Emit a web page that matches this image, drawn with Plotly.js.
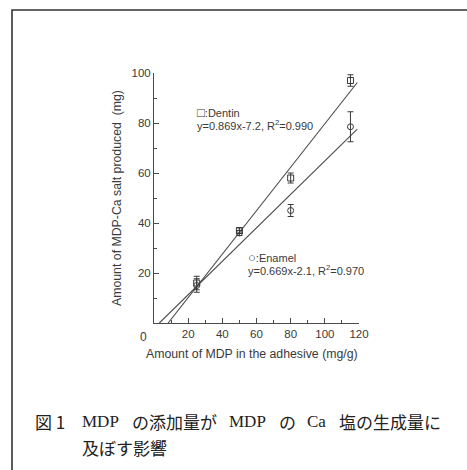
<!DOCTYPE html>
<html>
<head>
<meta charset="utf-8">
<script src="https://cdn.plot.ly/plotly-3.0.1.min.js"></script>
<style>html,body{margin:0;padding:0;background:#fff;}#chart{width:467px;height:470px;}</style>
</head>
<body>
<div id="chart"></div>
<script>
// Data
const mdpAmount = [25, 50, 80, 115];
const dentinSalt = [16, 37, 58, 97];
const dentinErr = [2.7, 1, 2, 2.3];
const enamelSalt = [15, 36, 45, 78.5];
const enamelErr = [2.7, 1, 2.4, 6];
const dentinFit = {slope: 0.869, intercept: -7.2, xEnd: 119};
const enamelFit = {slope: 0.669, intercept: -2.1, xEnd: 119};
const xTicks = [20, 40, 60, 80, 100, 120];
const yTicks = [20, 40, 60, 80, 100];
const dentinLabel = '<span style="font-size:13px">\u25A1</span>:Dentin';
const dentinEq = 'y=0.869x-7.2, R<sup>2</sup>=0.990';
const enamelLabel = '<span style="font-size:13px">\u25CB</span>:Enamel';
const enamelEq = 'y=0.669x-2.1, R<sup>2</sup>=0.970';
const xTitle = 'Amount of MDP in the adhesive (mg/g)';
const yTitle = 'Amount of MDP-Ca salt produced&nbsp;&nbsp;(mg)';
// caption: "図 1　MDP の添加量が MDP の Ca 塩の生成量に" / "及ぼす影響", split into justified pieces
const captionLine1 = ['図 1', 'MDP', 'の添加量が', 'MDP', 'の', 'Ca', '塩の生成量に'];
const captionLine2 = ['及ぼす影響'];

function fitLine(f) {
  const x0 = -f.intercept / f.slope;
  return {x: [x0, f.xEnd], y: [0, f.slope * f.xEnd + f.intercept]};
}
const dl = fitLine(dentinFit), el = fitLine(enamelFit);
const ink = '#3a3a3a';
const lineCol = '#4a4a4a';
const font = 'Liberation Sans, Arial, sans-serif';

const traces = [
  {x: dl.x, y: dl.y, mode: 'lines', line: {color: lineCol, width: 1.1}, hoverinfo: 'skip'},
  {x: el.x, y: el.y, mode: 'lines', line: {color: lineCol, width: 1.1}, hoverinfo: 'skip'},
  {x: mdpAmount, y: dentinSalt, mode: 'markers',
   marker: {symbol: 'square-open', size: 6, color: ink, line: {width: 1}},
   error_y: {type: 'data', array: dentinErr, visible: true, color: ink, thickness: 1, width: 3}},
  {x: mdpAmount, y: enamelSalt, mode: 'markers',
   marker: {symbol: 'circle-open', size: 6, color: ink, line: {width: 1}},
   error_y: {type: 'data', array: enamelErr, visible: true, color: ink, thickness: 1, width: 3}}
];

// layout helpers (pixel -> paper)
const L = 154, W = 205, B = 323, H = 250;
const px = X => (X - L) / W;
const py = Y => (B - Y) / H;

const capFontCJK = {family: 'Noto Sans CJK JP, sans-serif', size: 17, color: '#222'};
const capFontLat = {family: 'Liberation Serif, serif', size: 17, color: '#222'};
const cap1X = [33, 80, 129.5, 226.5, 277, 305, 337];
const cap1Font = [capFontCJK, capFontLat, capFontCJK, capFontLat, capFontCJK, capFontLat, capFontCJK];

const annotations = [
  {xref: 'x', yref: 'y', x: 24, y: 84.4, text: dentinLabel, showarrow: false, xanchor: 'left', yanchor: 'middle', font: {size: 11}},
  {xref: 'x', yref: 'y', x: 24, y: 79.2, text: dentinEq, showarrow: false, xanchor: 'left', yanchor: 'middle', font: {size: 11}},
  {xref: 'x', yref: 'y', x: 54, y: 26.4, text: enamelLabel, showarrow: false, xanchor: 'left', yanchor: 'middle', font: {size: 11}},
  {xref: 'x', yref: 'y', x: 54, y: 21.2, text: enamelEq, showarrow: false, xanchor: 'left', yanchor: 'middle', font: {size: 11}},
  {xref: 'paper', yref: 'paper', x: px(143), y: py(337), text: '0', showarrow: false, xanchor: 'center', yanchor: 'middle', font: {size: 12}},
  {xref: 'paper', yref: 'paper', x: px(252), y: py(354), text: xTitle, showarrow: false, xanchor: 'center', yanchor: 'middle', font: {size: 12.3}},
  {xref: 'paper', yref: 'paper', x: px(117), y: py(198), text: yTitle, textangle: -90, showarrow: false, xanchor: 'center', yanchor: 'middle', font: {size: 12.3}}
];
captionLine1.forEach((t, i) => annotations.push({xref: 'paper', yref: 'paper', x: px(cap1X[i]), y: py(421), text: t,
  showarrow: false, xanchor: 'left', yanchor: 'middle', font: cap1Font[i]}));
captionLine2.forEach(t => annotations.push({xref: 'paper', yref: 'paper', x: px(80), y: py(447), text: t,
  showarrow: false, xanchor: 'left', yanchor: 'middle', font: capFontCJK}));

const layout = {
  width: 467, height: 470,
  margin: {l: 154, r: 108, t: 73, b: 147},
  paper_bgcolor: '#fff', plot_bgcolor: '#fff',
  showlegend: false,
  font: {family: font, size: 11, color: ink},
  xaxis: {range: [0, 120], showgrid: false, zeroline: false, showline: true, linecolor: lineCol, linewidth: 1,
    ticks: 'inside', ticklen: 5, tickcolor: lineCol, tickvals: xTicks, ticktext: xTicks.map(String),
    minor: {ticks: 'inside', ticklen: 3, dtick: 10, tickcolor: lineCol, showgrid: false},
    tickfont: {family: font, size: 11.5, color: ink}, fixedrange: true},
  yaxis: {range: [0, 100], showgrid: false, zeroline: false, showline: true, linecolor: lineCol, linewidth: 1,
    ticks: 'inside', ticklen: 5, tickcolor: lineCol, tickvals: yTicks, ticktext: yTicks.map(String),
    minor: {ticks: 'inside', ticklen: 3, dtick: 10, tickcolor: lineCol, showgrid: false},
    tickfont: {family: font, size: 11.5, color: ink}, fixedrange: true},
  shapes: [
    {type: 'rect', xref: 'paper', yref: 'paper', x0: px(12), x1: 2, y0: -2, y1: py(10),
     line: {color: '#333', width: 1.6}, fillcolor: 'rgba(0,0,0,0)'}
  ],
  annotations: annotations
};
Plotly.newPlot('chart', traces, layout, {displayModeBar: false, staticPlot: true});
</script>
</body>
</html>
